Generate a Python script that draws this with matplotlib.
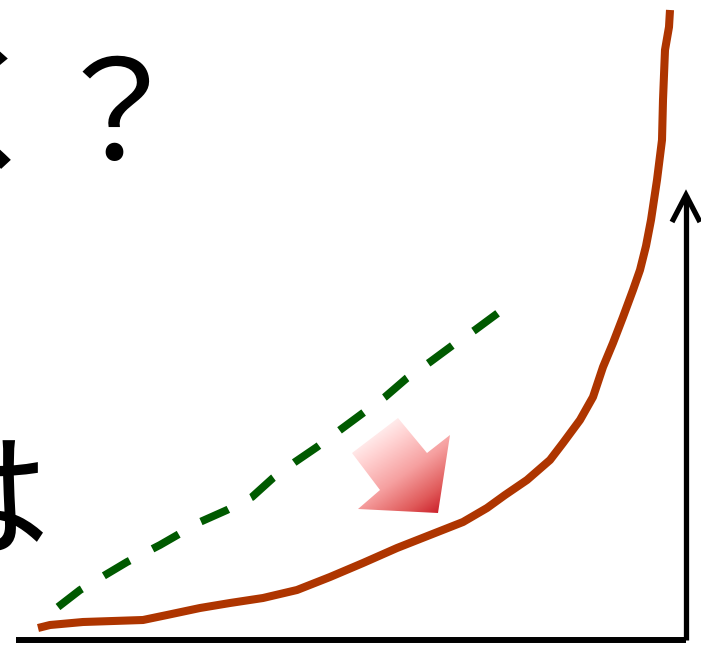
import numpy as np
import matplotlib
matplotlib.use("Agg")
import matplotlib.pyplot as plt
from matplotlib.patches import Polygon
from matplotlib.colors import LinearSegmentedColormap

plt.rcParams['font.family'] = ['Noto Sans CJK JP', 'DejaVu Sans']

W, H = 701, 646

# main curve (x, height above the bottom of the picture)
curve_x = [38, 50, 83, 143, 167, 200, 230, 263, 297, 330, 363, 397, 430, 463, 487, 505,
           527, 550, 563, 580, 593, 603, 613, 623, 633, 640, 646, 651, 657, 662, 663, 665, 669, 670]
curve_y = [18, 21, 24, 26, 31, 38, 43, 48, 56, 69, 83, 98, 111, 124, 138, 151,
           166, 186, 203, 226, 249, 279, 303, 329, 356, 376, 400, 426, 466, 506, 546, 596, 619, 636]

# dashed reference line
ref_x = [58, 80, 127, 160, 200, 227, 252, 273, 295, 317, 340, 363, 385, 407, 430, 453, 475, 498]
ref_y = [39, 56, 84, 101, 124, 136, 149, 168, 184, 199, 216, 233, 249, 268, 284, 301, 316, 333]

# gradient arrow outline
arrow_x = [398, 427, 450, 438, 358, 380, 352]
arrow_y = [228, 193, 211, 133, 137, 156, 193]

fig = plt.figure(figsize=(W / 100, H / 100), dpi=100)
ax = fig.add_axes([0, 0, 1, 1])
ax.set_xlim(0, W)
ax.set_ylim(0, H)
ax.axis('off')

# axes lines
ax.plot([16, 686], [6, 6], color='black', lw=4.3, solid_capstyle='butt')
ax.plot([686, 686], [6, 451], color='black', lw=3.8, solid_capstyle='butt')
ax.plot([672, 686, 700], [424, 451, 424], color='black', lw=3.8,
        solid_joinstyle='miter', solid_capstyle='butt')

# dashed line
ax.plot(ref_x, ref_y, color='#005a00', lw=5.6, linestyle=(0, (3.85, 3.3)),
        dash_capstyle='butt')

# curve
ax.plot(curve_x, curve_y, color='#ae3500', lw=5.8, solid_capstyle='butt',
        solid_joinstyle='round')

# gradient arrow
poly = Polygon(list(zip(arrow_x, arrow_y)), closed=True, facecolor='none', edgecolor='none')
ax.add_patch(poly)
cmap = LinearSegmentedColormap.from_list('g', ['#ffffff', '#ffd0d0', '#f6a0a0', '#e05a5a', '#c00010'])
gx, gy = np.meshgrid(np.linspace(345, 455, 200), np.linspace(130, 235, 200))
d = np.array([438 - 380, 133 - 215], dtype=float)
d /= np.linalg.norm(d)
t = (gx - 380) * d[0] + (gy - 215) * d[1]
t = (t - t.min()) / (t.max() - t.min())
t = np.clip((t - 0.15) / 0.85, 0, 1)
im = ax.imshow(t, extent=[345, 455, 130, 235], origin='lower', cmap=cmap,
               vmin=0, vmax=1, aspect='auto', interpolation='bilinear')
im.set_clip_path(poly)
ax.set_xlim(0, W)
ax.set_ylim(0, H)

# text fragments
ax.text(-89, 525, 'く？', fontsize=99, color='black', ha='left', va='center')
ax.text(-90, 138, 'は', fontsize=100, color='black', ha='left', va='center')

fig.savefig('out.png', dpi=100)
